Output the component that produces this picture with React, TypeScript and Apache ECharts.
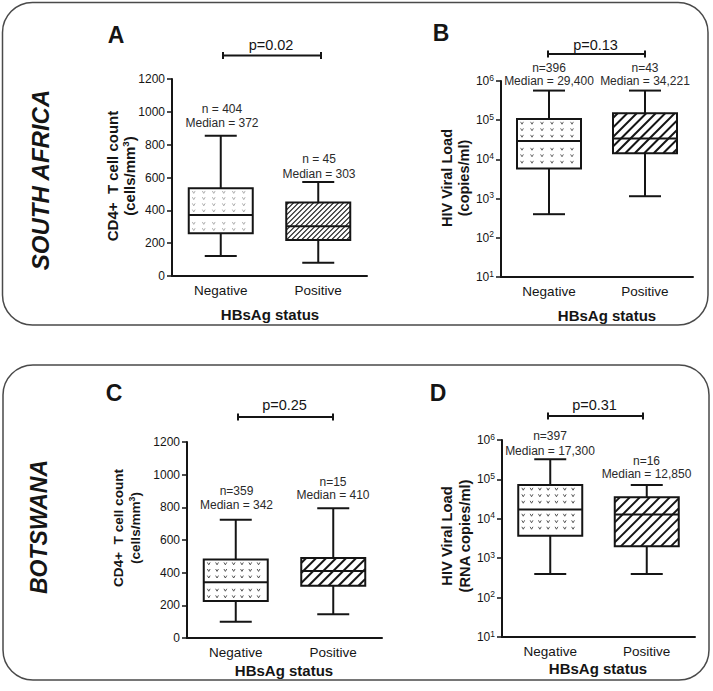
import React, { useEffect, useRef } from 'react';
import * as echarts from 'echarts';

const categories = ['Negative', 'Positive'];
// box statistics: [min, Q1, median, Q3, max]
const saCd4Negative = [122, 260, 372, 535, 855];
const saCd4Positive = [81, 220, 303, 447, 572];
const saVlNegative = [400, 5900, 29400, 107000, 570000];
const saVlPositive = [1150, 14300, 34221, 150000, 570000];
const bwCd4Negative = [100, 226, 342, 480, 724];
const bwCd4Positive = [146, 320, 410, 490, 795];
const bwVlNegative = [400, 3700, 17300, 72000, 324000];
const bwVlPositive = [400, 2000, 12850, 35000, 72000];

const nLabels = [
  ['n = 404', 'n = 45'],
  ['n=396', 'n=43'],
  ['n=359', 'n=15'],
  ['n=397', 'n=16'],
];
const medianLabels = [
  ['Median = 372', 'Median = 303'],
  ['Median = 29,400', 'Median = 34,221'],
  ['Median = 342', 'Median = 410'],
  ['Median = 17,300', 'Median = 12,850'],
];
const pValues = ['p=0.02', 'p=0.13', 'p=0.25', 'p=0.31'];
const panelLetters = ['A', 'B', 'C', 'D'];
const countries = ['SOUTH AFRICA', 'BOTSWANA'];
const cd4Min = 0;
const cd4Max = 1200;
const cd4Interval = 200;
const vlMin = 10;
const vlMax = 1000000;

const FONT = 'Liberation Sans, Arial, Helvetica, sans-serif';
const INK = '#151515';

type PatternCfg = { vx: number; vy: number; vColor: string; vW: number; hatch: number; hatchW: number };

function makeRenderItem(cfg: PatternCfg) {
  return (params: any, api: any) => {
    const idx = api.value(0);
    const vals = [1, 2, 3, 4, 5].map((i) => api.value(i));
    const cx = api.coord([idx, vals[2]])[0];
    const ys = vals.map((v: number) => api.coord([idx, v])[1]);
    const [yMin, yQ1, yMed, yQ3, yMax] = ys;
    const hw = 32;
    const cap = 16;
    const x0 = cx - hw;
    const x1 = cx + hw;
    const children: any[] = [];
    children.push({
      type: 'rect',
      shape: { x: x0, y: yQ3, width: 2 * hw, height: yQ1 - yQ3 },
      style: { fill: '#fff' },
    });
    if (idx === 0) {
      for (let y = yQ3 + 4; y < yQ1 - 2; y += cfg.vy) {
        if (Math.abs(y - yMed) < 2.5) continue;
        for (let x = x0 + 5; x < x1 - 2; x += cfg.vx) {
          children.push({
            type: 'polyline',
            shape: { points: [[x - 1.4, y - 1.2], [x, y + 1.2], [x + 1.4, y - 1.2]] },
            style: { stroke: cfg.vColor, lineWidth: cfg.vW, fill: 'none' },
          });
        }
      }
    } else {
      const y0 = yQ3;
      const y1 = yQ1;
      for (let c = x0 + y0 + cfg.hatch / 2; c < x1 + y1; c += cfg.hatch) {
        const xa = Math.max(x0, c - y1);
        const xb = Math.min(x1, c - y0);
        if (xb <= xa) continue;
        children.push({
          type: 'line',
          shape: { x1: xa, y1: c - xa, x2: xb, y2: c - xb },
          style: { stroke: INK, lineWidth: cfg.hatchW },
        });
      }
    }
    children.push({
      type: 'rect',
      shape: { x: x0, y: yQ3, width: 2 * hw, height: yQ1 - yQ3 },
      style: { fill: 'none', stroke: INK, lineWidth: 2 },
    });
    children.push({ type: 'line', shape: { x1: x0, y1: yMed, x2: x1, y2: yMed }, style: { stroke: INK, lineWidth: 2 } });
    children.push({ type: 'line', shape: { x1: cx, y1: yQ3, x2: cx, y2: yMax }, style: { stroke: INK, lineWidth: 2 } });
    children.push({ type: 'line', shape: { x1: cx, y1: yQ1, x2: cx, y2: yMin }, style: { stroke: INK, lineWidth: 2 } });
    children.push({ type: 'line', shape: { x1: cx - cap, y1: yMax, x2: cx + cap, y2: yMax }, style: { stroke: INK, lineWidth: 2 } });
    children.push({ type: 'line', shape: { x1: cx - cap, y1: yMin, x2: cx + cap, y2: yMin }, style: { stroke: INK, lineWidth: 2 } });
    return { type: 'group', children };
  };
}

function toRows(neg: number[], pos: number[]) {
  return [[0, ...neg], [1, ...pos]];
}

const grids = [
  { left: 172, top: 79, width: 195, height: 197 },
  { left: 501, top: 81, width: 192, height: 196 },
  { left: 187, top: 442, width: 195, height: 196 },
  { left: 502, top: 440, width: 193, height: 197 },
];

const patterns: PatternCfg[] = [
  { vx: 10, vy: 6.2, vColor: '#9a9a9a', vW: 0.8, hatch: 5, hatchW: 1.1 },
  { vx: 10, vy: 6.5, vColor: '#555', vW: 0.9, hatch: 9.5, hatchW: 2 },
  { vx: 8.3, vy: 6.6, vColor: '#444', vW: 0.9, hatch: 10, hatchW: 2 },
  { vx: 8.3, vy: 6.5, vColor: '#444', vW: 0.9, hatch: 10, hatchW: 2 },
];

function text(x: number, y: number, t: string, size: number, opts: any = {}) {
  const style: any = {
    text: t,
    fontFamily: FONT,
    fontSize: size,
    fontWeight: opts.bold ? 'bold' : 'normal',
    fontStyle: opts.italic ? 'italic' : 'normal',
    fill: opts.color || INK,
    align: 'center',
    verticalAlign: 'middle',
  };
  if (opts.rich) style.rich = opts.rich;
  return {
    type: 'text',
    x,
    y,
    rotation: opts.rotation || 0,
    style,
  };
}

function bracket(xa: number, xb: number, y: number) {
  const s = { stroke: INK, lineWidth: 2 };
  return [
    { type: 'line', shape: { x1: xa, y1: y, x2: xb, y2: y }, style: s },
    { type: 'line', shape: { x1: xa, y1: y - 3.5, x2: xa, y2: y + 3.5 }, style: s },
    { type: 'line', shape: { x1: xb, y1: y - 3.5, x2: xb, y2: y + 3.5 }, style: s },
  ];
}

const supRich = (size: number) => ({
  sup: { fontSize: size * 0.65, fontFamily: FONT, fontWeight: 'bold', fill: INK, verticalAlign: 'top', padding: [0, 0, 8, 0] },
});

export default function App() {
  const ref = useRef<HTMLDivElement>(null);
  useEffect(() => {
    if (!ref.current) return;
    const chart = echarts.init(ref.current, undefined, { renderer: 'svg' });

    const xAxes = grids.map((_, i) => ({
      type: 'category',
      gridIndex: i,
      data: categories,
      axisLine: { lineStyle: { color: INK, width: 2 } },
      axisTick: { alignWithLabel: true, length: 5, lineStyle: { color: INK, width: 1.5 } },
      axisLabel: { fontFamily: FONT, fontSize: 13.5, color: INK, margin: 7 },
      splitLine: { show: false },
    }));

    const cd4Axis = (i: number) => ({
      type: 'value',
      gridIndex: i,
      min: cd4Min,
      max: cd4Max,
      interval: cd4Interval,
      axisLine: { show: true, lineStyle: { color: INK, width: 2 } },
      axisTick: { show: true, length: 5, lineStyle: { color: INK, width: 1.5 } },
      axisLabel: { fontFamily: FONT, fontSize: 12, color: INK, margin: 7, formatter: (v: number) => String(v) },
      splitLine: { show: false },
    });
    const vlAxis = (i: number) => ({
      type: 'log',
      logBase: 10,
      gridIndex: i,
      min: vlMin,
      max: vlMax,
      splitNumber: 5,
      axisLine: { show: true, lineStyle: { color: INK, width: 2 } },
      axisTick: { show: true, length: 5, lineStyle: { color: INK, width: 1.5 } },
      axisLabel: {
        fontFamily: FONT,
        fontSize: 12,
        color: INK,
        margin: 7,
        formatter: (v: number) => '10{sup|' + Math.round(Math.log10(v)) + '}',
        rich: { sup: { fontSize: 8.5, fontFamily: FONT, color: INK, verticalAlign: 'top', padding: [0, 0, 7, 0] } },
      },
      splitLine: { show: false },
    });

    const seriesData = [
      toRows(saCd4Negative, saCd4Positive),
      toRows(saVlNegative, saVlPositive),
      toRows(bwCd4Negative, bwCd4Positive),
      toRows(bwVlNegative, bwVlPositive),
    ];

    const series = seriesData.map((data, i) => ({
      type: 'custom',
      xAxisIndex: i,
      yAxisIndex: i,
      data,
      encode: { x: 0, y: [1, 2, 3, 4, 5] },
      renderItem: makeRenderItem(patterns[i]),
      clip: false,
      silent: true,
    }));

    const annPos = [
      [[222, 109, 123], [319, 159, 174]],
      [[549, 67.5, 81], [645, 67.5, 81]],
      [[236.5, 491, 505], [333, 481.5, 495]],
      [[550, 436, 450.5], [646.5, 460.5, 473.5]],
    ];
    const annotations: any[] = [];
    annPos.forEach((panel, i) => {
      panel.forEach((p, j) => {
        annotations.push(text(p[0], p[1], nLabels[i][j], 12, { color: '#2a2a2a' }));
        annotations.push(text(p[0], p[2], medianLabels[i][j], 12, { color: '#2a2a2a' }));
      });
    });

    const pPos = [
      [223, 321, 55.5, 45],
      [548, 645, 54, 44.5],
      [238, 333, 417, 405],
      [548, 643, 416, 405],
    ];
    const brackets: any[] = [];
    pPos.forEach((p, i) => {
      brackets.push(...bracket(p[0], p[1], p[2]));
      brackets.push(text((p[0] + p[1]) / 2 - 1, p[3], pValues[i], 14.5, {}));
    });

    const letterPos = [
      [116, 35],
      [441, 33],
      [114, 393],
      [438, 393],
    ];
    const letters = letterPos.map((p, i) => text(p[0], p[1], panelLetters[i], 23, { bold: true }));

    const rot = Math.PI / 2;
    const yTitles = [
      text(112, 176, 'CD4+  T cell count', 15, { bold: true, rotation: rot }),
      text(129.5, 176, '(cells/mm{sup|3})', 15, { bold: true, rotation: rot, rich: supRich(15) }),
      text(446.5, 178, 'HIV Viral Load', 14.5, { bold: true, rotation: rot }),
      text(463.5, 178, '(copies/ml)', 14.5, { bold: true, rotation: rot }),
      text(118.5, 528, 'CD4+  T cell count', 13.6, { bold: true, rotation: rot }),
      text(135.5, 528, '(cells/mm{sup|3})', 13.6, { bold: true, rotation: rot, rich: supRich(13.6) }),
      text(447, 536, 'HIV Viral Load', 14.7, { bold: true, rotation: rot }),
      text(465, 536, '(RNA copies/ml)', 14.7, { bold: true, rotation: rot }),
    ];
    const xTitles = [
      text(270, 314, 'HBsAg status', 15, { bold: true }),
      text(607, 315, 'HBsAg status', 15, { bold: true }),
      text(284, 670, 'HBsAg status', 15, { bold: true }),
      text(598, 668, 'HBsAg status', 15, { bold: true }),
    ];
    const countryTexts = [
      text(40, 180, countries[0], 24, { bold: true, italic: true, rotation: rot }),
      text(39, 527, countries[1], 23, { bold: true, italic: true, rotation: rot }),
    ];
    const frames = [
      { type: 'rect', shape: { x: 2.5, y: 2.5, width: 705.5, height: 322.5, r: 30 }, style: { fill: 'none', stroke: '#4a4a4a', lineWidth: 1.5 } },
      { type: 'rect', shape: { x: 3, y: 365, width: 706, height: 315, r: 30 }, style: { fill: 'none', stroke: '#4a4a4a', lineWidth: 1.5 } },
    ];

    chart.setOption({
      animation: false,
      backgroundColor: '#fff',
      grid: grids.map((g) => ({ ...g, containLabel: false })),
      xAxis: xAxes,
      yAxis: [cd4Axis(0), vlAxis(1), cd4Axis(2), vlAxis(3)],
      series,
      graphic: [...frames, ...letters, ...brackets, ...annotations, ...yTitles, ...xTitles, ...countryTexts],
    });
    return () => chart.dispose();
  }, []);
  return <div ref={ref} style={{ position: 'fixed', left: 0, top: 0, width: 713, height: 691 }} />;
}
